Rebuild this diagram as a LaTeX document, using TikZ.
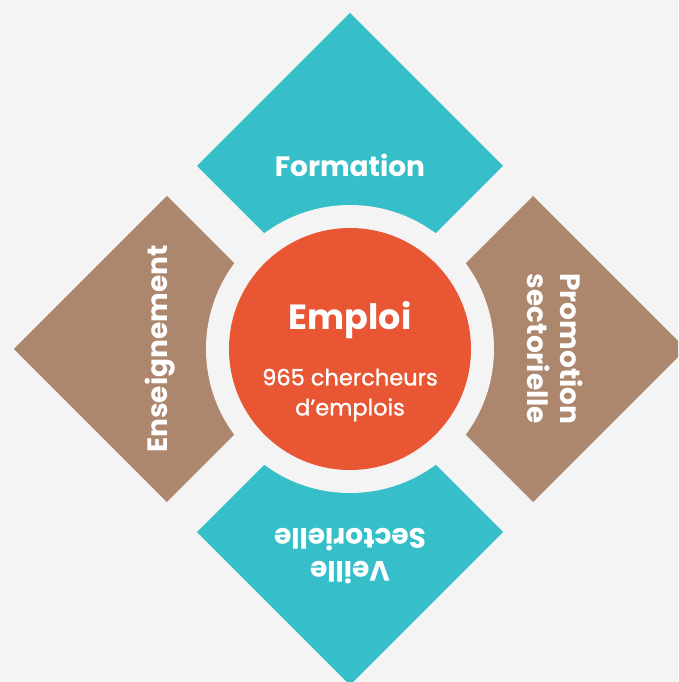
\documentclass[tikz,border=0pt]{standalone}
\usepackage{fontspec}
\usepackage{tikz}
\usepackage{xcolor}
\setmainfont{Poppins}
\newfontfamily\moyen[FakeBold=1.2]{Poppins}
\usetikzlibrary{shapes, positioning}

\definecolor{fond}{HTML}{F4F4F4}
\definecolor{turquoise}{HTML}{36BFC9}
\definecolor{brun}{HTML}{AC866D}
\definecolor{corail}{HTML}{E85633}

\tikzset{
    pole/.style={text=white, font=\bfseries\fontsize{28}{33}\selectfont, align=center, inner sep=0pt},
    coeur/.style={circle, fill=corail, minimum size=242pt, inner sep=0pt}
}

\begin{document}
\begin{tikzpicture}[x=1pt, y=1pt]
        \useasboundingbox (-350, -333) rectangle (328, 349);
        \fill[fond] (-350, -333) rectangle (328, 349);
        \clip (-350, -333) rectangle (328, 349);

        \foreach \a/\c in {90/turquoise, 180/brun, 0/brun, 270/turquoise} {
            \fill[\c, shift={(\a:183)}] (153, 0) -- (0, 153) -- (-153, 0) -- (0, -153) -- cycle;
        }

        \fill[fond] (0, 0) circle (144);
        \node[coeur] (emploi) at (0, 0) {};

        \node[pole, font=\bfseries\fontsize{35}{40}\selectfont] (titre) at (0, 29) {Emploi};
        \node[pole, font=\moyen\fontsize{22.5}{30}\selectfont] (chercheurs) at (0, -46) {965 chercheurs\\d’emplois};

        \node[pole] (formation) at (0, 184) {Formation};
        \node[pole, rotate=90] (enseignement) at (-190, 0) {Enseignement};
        \node[pole, rotate=-90] (promotion) at (205, 0) {Promotion\\sectorielle};
        \node[pole, rotate=180] (veille) at (0, -207) {Veille\\Sectorielle};
    \end{tikzpicture}
\end{document}
